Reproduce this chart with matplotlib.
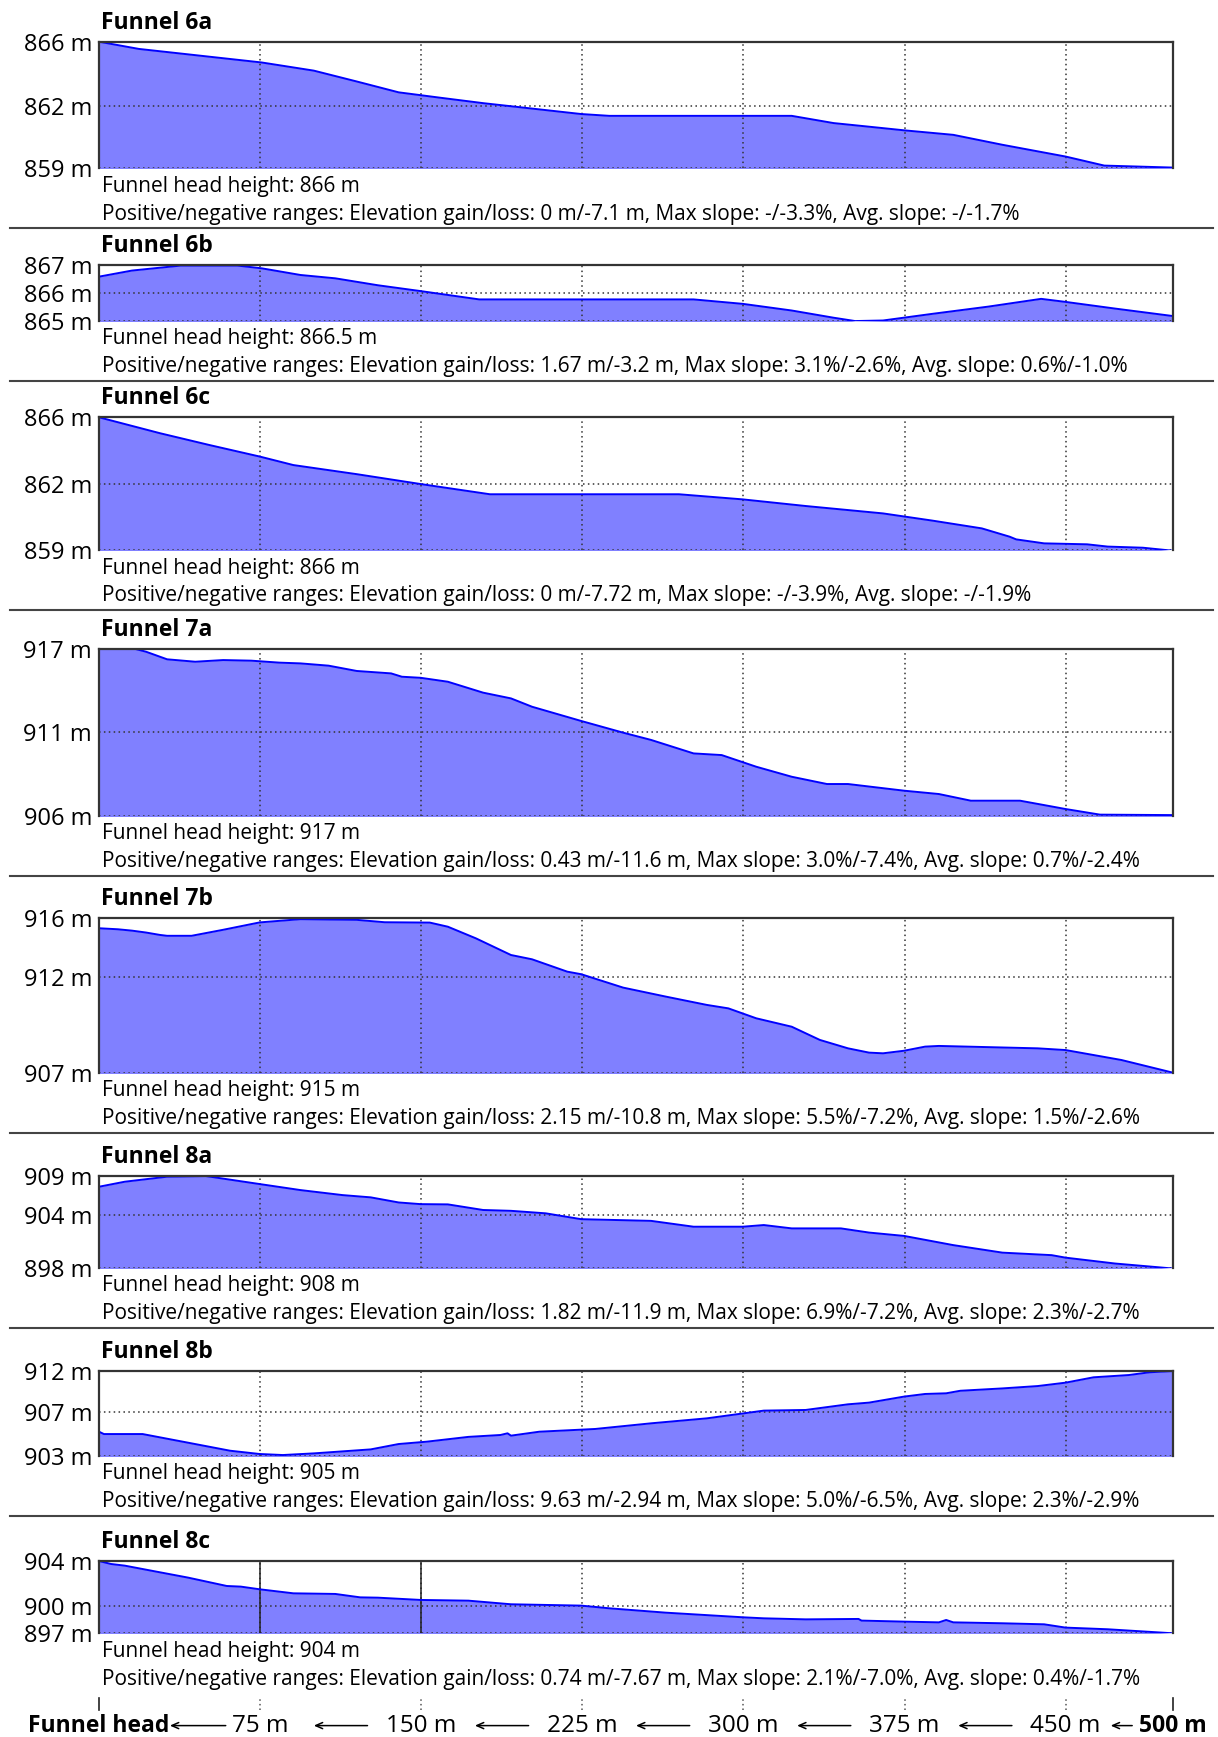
import numpy as np
import matplotlib.pyplot as plt
from matplotlib.lines import Line2D

plt.rcParams['font.family'] = ['Open Sans', 'DejaVu Sans']

# Funnel names, head heights and summary lines
funnels = ['6a', '6b', '6c', '7a', '7b', '8a', '8b', '8c']
head_heights = ['866', '866.5', '866', '917', '915', '908', '905', '904']
stats = [
    'Elevation gain/loss: 0 m/-7.1 m, Max slope: -/-3.3%, Avg. slope: -/-1.7%',
    'Elevation gain/loss: 1.67 m/-3.2 m, Max slope: 3.1%/-2.6%, Avg. slope: 0.6%/-1.0%',
    'Elevation gain/loss: 0 m/-7.72 m, Max slope: -/-3.9%, Avg. slope: -/-1.9%',
    'Elevation gain/loss: 0.43 m/-11.6 m, Max slope: 3.0%/-7.4%, Avg. slope: 0.7%/-2.4%',
    'Elevation gain/loss: 2.15 m/-10.8 m, Max slope: 5.5%/-7.2%, Avg. slope: 1.5%/-2.6%',
    'Elevation gain/loss: 1.82 m/-11.9 m, Max slope: 6.9%/-7.2%, Avg. slope: 2.3%/-2.7%',
    'Elevation gain/loss: 9.63 m/-2.94 m, Max slope: 5.0%/-6.5%, Avg. slope: 2.3%/-2.9%',
    'Elevation gain/loss: 0.74 m/-7.67 m, Max slope: 2.1%/-7.0%, Avg. slope: 0.4%/-1.7%',
]

# y ticks (bottom, middle, top) and their labels
yticks = [
    [859, 862.45, 866], [865, 866, 867], [859, 862.5, 866], [906, 911.5, 917],
    [907, 912.6, 916], [898, 904.3, 909], [903, 907.6, 912], [897, 899.6, 904],
]
ytick_labels = [
    ['859 m', '862 m', '866 m'], ['865 m', '866 m', '867 m'], ['859 m', '862 m', '866 m'],
    ['906 m', '911 m', '917 m'], ['907 m', '912 m', '916 m'], ['898 m', '904 m', '909 m'],
    ['903 m', '907 m', '912 m'], ['897 m', '900 m', '904 m'],
]

# elevation profiles (distance from funnel head in m, elevation in m)
dist_6a = [0, 18.6, 41.5, 64.4, 75.8, 100, 120, 139.5, 159, 179, 198, 224.5, 237.6, 299.7,
           322.5, 342, 358.5, 374.8, 397.7, 420.6, 450, 468, 500]
elev_6a = [866.0, 865.6, 865.3, 865.0, 864.85, 864.4, 863.8, 863.2, 862.9, 862.6, 862.35, 862.0,
           861.9, 861.9, 861.9, 861.5, 861.3, 861.1, 860.85, 860.3, 859.65, 859.15, 859.04]

dist_6b = [0, 15.4, 38.2, 64.4, 75.8, 93.8, 110, 129.8, 149.7, 177, 276.8, 299.7, 322.5, 342,
           352, 365, 388, 414, 438.6, 450, 473, 500]
elev_6b = [866.58, 866.8, 866.98, 866.98, 866.88, 866.64, 866.52, 866.27, 866.06, 865.76, 865.76,
           865.6, 865.36, 865.1, 864.98, 865.0, 865.24, 865.5, 865.78, 865.67, 865.43, 865.16]

dist_6c = [0, 28.4, 51.3, 74.8, 90.5, 120, 149.7, 182, 270, 299.7, 329, 365, 388, 411, 424, 427,
           440, 460, 469.6, 486, 500]
elev_6c = [866.0, 865.16, 864.54, 863.93, 863.48, 863.0, 862.48, 861.94, 861.94, 861.67, 861.32,
           860.93, 860.55, 860.14, 859.7, 859.56, 859.35, 859.3, 859.18, 859.12, 858.96]

dist_7a = [0, 17, 21.9, 31.7, 44.8, 57.8, 70.9, 84, 93.8, 106.9, 120, 136, 141, 149.7, 162.4,
           178.8, 191.8, 201.6, 224.5, 244, 257, 276.8, 289.9, 306, 322.5, 338.9, 348.7, 374.8,
           391, 405.9, 428.8, 440, 450, 466, 500]
elev_7a = [917.0, 917.0, 916.82, 916.32, 916.16, 916.27, 916.23, 916.1, 916.05, 915.9, 915.55,
           915.39, 915.17, 915.1, 914.84, 914.12, 913.74, 913.19, 912.25, 911.48, 911.0, 910.11,
           910.0, 909.23, 908.57, 908.09, 908.09, 907.65, 907.43, 906.99, 906.99, 906.7, 906.44,
           906.07, 906.04]

dist_7b = [0, 8.8, 15.4, 21.9, 28.4, 31.7, 43.1, 57.8, 74.8, 93.8, 120, 133, 154, 162.4, 175.5,
           191.8, 201.6, 218, 224.5, 244, 263.7, 283, 293, 306, 322.5, 335.6, 348.7, 358.5, 365,
           374.8, 384.6, 391, 437, 450, 463, 476, 500]
elev_7b = [915.42, 915.36, 915.28, 915.17, 915.03, 914.98, 914.98, 915.33, 915.76, 915.95,
           915.91, 915.77, 915.75, 915.51, 914.83, 913.86, 913.61, 912.89, 912.74, 911.96, 911.44,
           910.95, 910.75, 910.17, 909.68, 908.91, 908.42, 908.17, 908.13, 908.28, 908.52, 908.56,
           908.42, 908.32, 908.03, 907.74, 907.0]

dist_8a = [0, 12, 31.7, 49.7, 74.8, 93.8, 113.4, 126.5, 139.5, 149.7, 162.4, 178.8, 191.8, 208,
           224.5, 257, 276.8, 299.7, 309.5, 322.5, 345.4, 358.5, 374.8, 397.7, 420.6, 443.5, 450,
           473, 500]
elev_8a = [907.68, 908.28, 908.88, 908.96, 908.0, 907.28, 906.68, 906.41, 905.8, 905.6, 905.57,
           904.9, 904.8, 904.5, 903.8, 903.6, 902.9, 902.9, 903.1, 902.7, 902.7, 902.2, 901.8,
           900.7, 899.8, 899.5, 899.2, 898.5, 897.9]

dist_8b = [0, 2.3, 20.3, 41.5, 61, 74.8, 85.6, 100.3, 126.5, 139.5, 152.6, 172, 186.9, 190.2,
           191.8, 205, 231, 257, 283, 309.5, 329, 348.7, 358.5, 374.8, 384.6, 394.4, 401, 420.6,
           437, 450, 463, 479.4, 489, 500]
elev_8b = [905.55, 905.3, 905.3, 904.38, 903.53, 903.18, 903.07, 903.25, 903.67, 904.24, 904.49,
           905.0, 905.2, 905.38, 905.13, 905.55, 905.84, 906.44, 906.97, 907.79, 907.86, 908.46,
           908.64, 909.28, 909.56, 909.63, 909.9, 910.15, 910.4, 910.76, 911.33, 911.57, 911.86,
           912.0]

dist_8c = [0, 5.6, 12, 25.2, 41.5, 59.5, 66, 74.8, 90.5, 110, 121.6, 129.8, 149.7, 172, 191.8,
           224.5, 237.6, 263.7, 299.7, 309.5, 329, 353.6, 355, 374.8, 391, 394.4, 397.7, 420.6,
           440, 450, 469.6, 500]
elev_8c = [904.0, 903.71, 903.55, 903.03, 902.39, 901.58, 901.52, 901.26, 900.87, 900.81, 900.48,
           900.45, 900.23, 900.16, 899.81, 899.68, 899.42, 899.0, 898.55, 898.45, 898.35, 898.39,
           898.23, 898.13, 898.06, 898.29, 898.06, 897.97, 897.87, 897.55, 897.39, 897.0]

dists = [dist_6a, dist_6b, dist_6c, dist_7a, dist_7b, dist_8a, dist_8b, dist_8c]
elevs = [elev_6a, elev_6b, elev_6c, elev_7a, elev_7b, elev_8a, elev_8b, elev_8c]

xticks = [0, 75, 150, 225, 300, 375, 450, 500]
xtick_labels = ['Funnel head', '75 m', '150 m', '225 m', '300 m', '375 m', '450 m', '500 m']

# panel placement in pixels (top, bottom of each axes)
W, H = 1218, 1737
panel_px = [(41.7, 168.3), (265, 320.5), (417.3, 550), (649, 815.7),
            (918.3, 1072.7), (1175.7, 1267.7), (1371, 1455.7), (1561, 1633.3)]
x0, x1 = 99, 1173

fig = plt.figure(figsize=(W / 100, H / 100), dpi=100)

for i, name in enumerate(funnels):
    top, bot = panel_px[i]
    ax = fig.add_axes([x0 / W, 1 - bot / H, (x1 - x0) / W, (bot - top) / H])
    lo, hi = yticks[i][0], yticks[i][-1]
    ax.fill_between(dists[i], elevs[i], lo - 1, color='#8080ff', lw=0, zorder=1)
    ax.plot(dists[i], elevs[i], color='#0000ff', lw=1.4, zorder=3)
    ax.set_xlim(0, 500)
    ax.set_ylim(lo, hi)
    ax.set_yticks(yticks[i], ytick_labels[i])
    ax.set_xticks(xticks[1:-1])
    ax.tick_params(length=0, labelbottom=False, labelsize=17, pad=5)
    ax.set_axisbelow(False)
    ax.grid(True, ls=(0, (1, 2.2)), color='#333333', lw=1.1, zorder=2.5)
    if name == '8c':
        for xv in [75, 150]:
            ax.axvline(xv, color='#222222', lw=1.1, zorder=2.6)
    ax.spines['bottom'].set_visible(False)
    for s in ['top', 'left', 'right']:
        ax.spines[s].set_color('#333333')
        ax.spines[s].set_linewidth(1.6)
        ax.spines[s].set_zorder(4)

    fig.text(101 / W, 1 - (top - 19) / H, 'Funnel ' + name, fontsize=16.5,
             fontweight='bold', va='center', ha='left')
    fig.text(102 / W, 1 - (bot + 18) / H, 'Funnel head height: ' + head_heights[i] + ' m',
             fontsize=15, va='center', ha='left')
    fig.text(102 / W, 1 - (bot + 46) / H, 'Positive/negative ranges: ' + stats[i],
             fontsize=15, va='center', ha='left')
    if i < len(funnels) - 1:
        ysep = 1 - (bot + 60) / H
        fig.add_artist(Line2D([10 / W, 1213 / W], [ysep, ysep], color='#444444', lw=1.5))

# bottom distance axis
axb = fig.add_axes([x0 / W, 1 - 1710 / H, (x1 - x0) / W, 12 / H])
axb.set_xlim(0, 500)
axb.set_ylim(0, 1)
axb.axis('off')
for xv in xticks:
    if xv in (0, 500):
        axb.plot([xv, xv], [0, 1], color='#222222', lw=1.2, clip_on=False)
    else:
        axb.plot([xv, xv], [0, 1], color='#555555', lw=1.1, ls=(0, (1, 2)), clip_on=False)
tr = axb.get_xaxis_transform()
for xv, lab in zip(xticks, xtick_labels):
    bold = xv in (0, 500)
    axb.text(xv, -1.35, lab, transform=tr, ha='center', va='center',
             fontsize=16.5 if bold else 17.5, fontweight='bold' if bold else 'normal')

# arrows between the labels
arrow_centers = [46, 112.5, 187.5, 262.5, 337.5, 412.5, 476]
arrow_lengths = [26, 25, 25, 25, 25, 25, 10]
for c, L in zip(arrow_centers, arrow_lengths):
    axb.annotate('', xy=(c - L / 2, -1.3), xytext=(c + L / 2, -1.3), xycoords=tr,
                 textcoords=tr, annotation_clip=False,
                 arrowprops=dict(arrowstyle='->,head_length=0.5,head_width=0.22',
                                 color='black', lw=1.1, shrinkA=0, shrinkB=0))

fig.savefig('out.png', dpi=100)
